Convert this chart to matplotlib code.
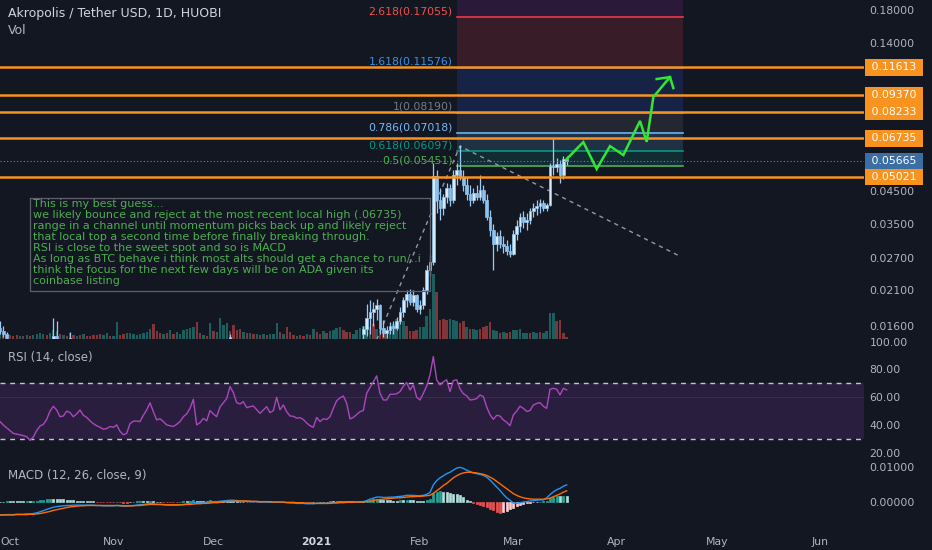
import matplotlib
matplotlib.use('Agg')
import matplotlib.pyplot as plt
import matplotlib.dates as mdates
import numpy as np
import pandas as pd

# ---------------- data ----------------
first_day = '2020-09-28'
last_day = '2021-03-17'

# RSI (14, close), one value per day
rsi_vals = [42.5, 40.0, 38.0, 36.0, 34.0, 33.5, 33.0, 32.4, 31.7, 29.0,
            31.5, 36.0, 39.3, 40.5, 44.0, 50.0, 53.5, 50.8, 46.0, 46.5,
            50.0, 49.0, 46.0, 48.0, 50.8, 47.0, 45.5, 43.0, 41.0, 39.5,
            38.4, 37.0, 37.5, 38.9, 38.4, 40.1, 35.5, 33.0, 34.0, 41.0,
            42.8, 42.9, 42.5, 47.0, 50.8, 56.0, 49.6, 43.7, 44.5, 42.5,
            40.1, 39.5, 39.0, 40.5, 42.5, 46.0, 48.0, 52.0, 58.5, 40.1,
            41.7, 44.8, 43.0, 50.4, 48.0, 46.0, 53.0, 56.0, 59.0, 67.6,
            63.3, 56.1, 55.1, 56.8, 52.5, 53.2, 53.7, 51.0, 48.4, 50.8,
            53.2, 48.9, 50.4, 59.9, 51.0, 54.4, 49.6, 46.5,
            46.3, 45.0, 45.3, 44.0, 41.5, 39.5, 38.4, 45.5, 42.5, 44.5,
            44.0, 46.0, 52.0, 57.5, 59.5, 60.9, 55.6, 44.4, 45.5, 47.5,
            49.6, 50.4, 62.8, 67.0, 71.0, 75.3, 62.8, 58.0, 58.0, 62.1,
            62.1, 62.5, 64.0, 68.0, 70.5, 65.2, 68.8, 60.0, 58.0, 62.8,
            68.0, 76.0, 89.2, 72.4, 68.8, 71.0, 72.5, 64.0, 71.9, 72.5,
            66.0, 62.5, 61.0, 58.0, 58.3, 59.0, 61.6, 60.5, 53.0, 47.5,
            44.1, 47.0, 46.5, 43.7, 42.0, 39.6, 47.2, 50.0, 53.5, 52.0,
            49.8, 50.4, 54.4, 55.5, 56.1, 53.5, 52.0, 65.7, 66.4, 65.7,
            61.6, 66.4, 65.2]

# MACD (12, 26, close, 9)
macd_vals = [-0.0038, -0.0038, -0.0037, -0.0037, -0.0037, -0.0036, -0.0036, -0.0036, -0.0035, -0.0035,
             -0.0034, -0.0032, -0.0029, -0.0026, -0.0022, -0.0019, -0.0016, -0.0014, -0.0013, -0.0012,
             -0.0011, -0.0011, -0.0010, -0.0010, -0.0010, -0.0010, -0.0010, -0.0010, -0.0010, -0.0011,
             -0.0011, -0.0012, -0.0012, -0.0012, -0.0012, -0.0011, -0.0012, -0.0013, -0.0013, -0.0012,
             -0.0011, -0.0010, -0.0009, -0.0008, -0.0007, -0.0005, -0.0006, -0.0008, -0.0008, -0.0009,
             -0.0010, -0.0010, -0.0010, -0.0010, -0.0009, -0.0008, -0.0007, -0.0005, -0.0002, -0.0004,
             -0.0004, -0.0003, -0.0002, 0.0000, 0.0000, 0.0000, 0.0001, 0.0002, 0.0003, 0.0004,
             0.0004, 0.0003, 0.0002, 0.0002, 0.0001, 0.0001, 0.0000, 0.0000, -0.0001, -0.0001,
             -0.0001, -0.0002, -0.0002, -0.0001, -0.0002, -0.0002, -0.0003, -0.0004, -0.0004, -0.0005,
             -0.0005, -0.0005, -0.0006, -0.0006, -0.0006, -0.0005, -0.0005, -0.0005, -0.0005, -0.0004,
             -0.0003, -0.0002, -0.0001, 0.0000, 0.0000, -0.0001, -0.0001, -0.0001, 0.0000, 0.0000,
             0.0003, 0.0007, 0.0010, 0.0013, 0.0013, 0.0012, 0.0012, 0.0013, 0.0013, 0.0014,
             0.0015, 0.0016, 0.0018, 0.0018, 0.0018, 0.0017, 0.0017, 0.0018, 0.0021, 0.0026,
             0.0048, 0.0060, 0.0068, 0.0074, 0.0080, 0.0084, 0.0090, 0.0096, 0.0098, 0.0095,
             0.0090, 0.0086, 0.0082, 0.0080, 0.0078, 0.0075, 0.0070, 0.0062, 0.0052, 0.0042,
             0.0032, 0.0021, 0.0011, 0.0004, -0.0004, -0.0005, -0.0003, -0.0001, 0.0000, 0.0002,
             0.0003, 0.0004, 0.0005, 0.0005, 0.0011, 0.0020, 0.0028, 0.0034, 0.0038, 0.0044,
             0.0048]
signal_vals = [-0.0038, -0.0038, -0.0038, -0.0038, -0.0038, -0.0037, -0.0037, -0.0037, -0.0037, -0.0036,
               -0.0036, -0.0035, -0.0034, -0.0032, -0.0030, -0.0028, -0.0025, -0.0023, -0.0021, -0.0019,
               -0.0017, -0.0015, -0.0014, -0.0013, -0.0012, -0.0012, -0.0011, -0.0011, -0.0011, -0.0011,
               -0.0011, -0.0011, -0.0011, -0.0011, -0.0011, -0.0011, -0.0011, -0.0012, -0.0012, -0.0012,
               -0.0012, -0.0011, -0.0011, -0.0010, -0.0009, -0.0008, -0.0008, -0.0008, -0.0008, -0.0008,
               -0.0009, -0.0009, -0.0009, -0.0009, -0.0009, -0.0009, -0.0008, -0.0008, -0.0007, -0.0006,
               -0.0006, -0.0005, -0.0005, -0.0004, -0.0003, -0.0003, -0.0002, -0.0001, 0.0000, 0.0001,
               0.0001, 0.0002, 0.0002, 0.0002, 0.0002, 0.0001, 0.0001, 0.0001, 0.0000, 0.0000,
               0.0000, 0.0000, -0.0001, -0.0001, -0.0001, -0.0001, -0.0002, -0.0002, -0.0002, -0.0003,
               -0.0003, -0.0004, -0.0004, -0.0004, -0.0005, -0.0005, -0.0005, -0.0005, -0.0005, -0.0005,
               -0.0004, -0.0004, -0.0003, -0.0003, -0.0002, -0.0002, -0.0002, -0.0001, -0.0001, -0.0001,
               0.0000, 0.0001, 0.0003, 0.0005, 0.0006, 0.0007, 0.0008, 0.0009, 0.0010, 0.0011,
               0.0011, 0.0012, 0.0013, 0.0014, 0.0014, 0.0015, 0.0015, 0.0016, 0.0017, 0.0018,
               0.0024, 0.0031, 0.0038, 0.0046, 0.0052, 0.0060, 0.0068, 0.0074, 0.0079, 0.0082,
               0.0084, 0.0084, 0.0083, 0.0082, 0.0080, 0.0078, 0.0075, 0.0070, 0.0065, 0.0058,
               0.0051, 0.0044, 0.0037, 0.0030, 0.0023, 0.0018, 0.0014, 0.0011, 0.0009, 0.0008,
               0.0007, 0.0007, 0.0007, 0.0007, 0.0008, 0.0010, 0.0014, 0.0018, 0.0022, 0.0027,
               0.0031]
hist_vals = [0.0000, 0.0000, 0.0001, 0.0001, 0.0001, 0.0001, 0.0001, 0.0001, 0.0002, 0.0001, 0.0002, 0.0003,
             0.0005, 0.0006, 0.0008, 0.0009, 0.0009, 0.0009, 0.0008, 0.0007, 0.0006,
             0.0004, 0.0004, 0.0003, 0.0002, 0.0002, 0.0001, 0.0001, 0.0001,
             -0.0001, -0.0001, -0.0002, -0.0002, -0.0002, -0.0002, 0.0000, -0.0002, -0.0003, -0.0003, -0.0002, 0.0000,
             0.0001, 0.0002, 0.0002, 0.0002, 0.0003, 0.0002, 0.0000, 0.0000, -0.0001, -0.0001, -0.0001,
             -0.0001, -0.0001, 0.0000, 0.0001, 0.0001, 0.0003, 0.0005, 0.0002, 0.0002, 0.0002, 0.0003,
             0.0004, 0.0003, 0.0003, 0.0003, 0.0003, 0.0003, 0.0003, 0.0003, 0.0001, 0.0000, 0.0000, -0.0001,
             0.0000, -0.0001, -0.0001, -0.0001, -0.0001, -0.0001, -0.0002, -0.0001, 0.0000, -0.0001, -0.0001,
             -0.0001, -0.0002,
             -0.0002, -0.0002, -0.0002, -0.0001, -0.0002, -0.0002, -0.0001, 0.0000, 0.0000, 0.0000, 0.0000,
             0.0001, 0.0001, 0.0002, 0.0002, 0.0003, 0.0002, 0.0001, 0.0001, 0.0000, 0.0001, 0.0001,
             0.0003, 0.0006, 0.0007, 0.0008, 0.0007, 0.0005, 0.0004, 0.0004, 0.0003, 0.0003, 0.0004, 0.0004,
             0.0005, 0.0004, 0.0004, 0.0002, 0.0002, 0.0002, 0.0004, 0.0008,
             0.0024, 0.0029, 0.0030, 0.0028, 0.0028, 0.0024, 0.0022, 0.0022, 0.0019, 0.0013, 0.0006, 0.0002,
             -0.0003, -0.0006, -0.0009, -0.0012, -0.0016, -0.0020, -0.0025, -0.0029, -0.0031, -0.0030,
             -0.0027, -0.0022, -0.0017, -0.0013, -0.0010, -0.0007, -0.0005, -0.0003, -0.0002, -0.0001, 0.0000,
             0.0001, 0.0003, 0.0010, 0.0014, 0.0016, 0.0016, 0.0017, 0.0017]

# volume (millions) and bar colour (g = up day, r = down day)
volume = [5, 4, 3, 4, 3, 4, 3, 3, 4, 3,
          4, 5, 6, 5, 4, 6, 9, 8, 5, 4,
          3, 6, 4, 3, 4, 5, 3, 3, 4, 4,
          5, 4, 6, 3, 3, 17, 4, 5, 6, 6,
          5, 4, 5, 6, 7, 10, 15, 8, 6, 5,
          6, 9, 5, 7, 5, 9, 10, 11, 12, 17,
          6, 4, 3, 16, 8, 7, 21, 14, 16, 8,
          14, 9, 10, 7, 6, 6, 5, 5, 4, 5,
          4, 5, 5, 16, 7, 5, 12, 7,
          4, 3, 4, 3, 5, 4, 10, 7, 5, 8,
          6, 8, 9, 11, 12, 9, 7, 7, 5, 9,
          11, 13, 18, 12, 15, 10, 12, 8, 6, 9,
          15, 20, 25, 18, 13, 8, 8, 9, 12, 12,
          23, 30, 65, 47, 19, 20, 19, 20, 19, 18,
          16, 18, 12, 10, 10, 9, 10, 12, 13, 17,
          9, 8, 6, 7, 6, 7, 9, 9, 10, 6,
          6, 6, 7, 6, 7, 6, 8, 26, 26, 18,
          19, 6, 2]
volume_dir = ('grrrrrgrgr' 'ggggrgggrg' 'rgrgrgrrrr' 'rggrggrrgg' 'ggggggrrrg'
              'rgrggggggr' 'rgrgrggggr' 'rrrgrgrgrg' 'rgggrgrr'
              'rgrrgrgrrg' 'rggggrrrgg' 'ggggrgrrgg' 'ggggrrrrgg' 'gggrrrrggg'
              'rrgrggrrrr' 'ggrgrrgggg' 'grggrggggr' 'rrr')

# candles that show inside the price pane (the rest sit below its bottom)
candle_dates = (['2020-09-28', '2020-09-29', '2020-09-30', '2020-10-14', '2020-10-15',
                 '2020-10-19', '2020-12-06']
                + [d.strftime('%Y-%m-%d') for d in pd.date_range('2021-01-15', '2021-03-17')])
c_open = [.0158, .0154, .0150, .0142, .0148, .0142, .0143,
          .0150, .0156, .0170, .0178, .0182, .0188, .0158, .0152, .0155, .0160,
          .0158, .0166, .0178, .0195, .0205, .0192, .0203, .0182, .0188, .0210,
          .0245, .0262, .0505, .0420, .0395, .0430, .0460, .0420, .0510, .0530,
          .0500, .0470, .0440, .0420, .0445, .0430, .0455, .0420, .0370, .0335,
          .0300, .0320, .0300, .0295, .0285, .0278, .0325, .0345, .0370, .0355,
          .0360, .0385, .0395, .0400, .0410, .0395, .0405, .0545, .0540, .0555,
          .0510, .0575]
c_high = [.0166, .0160, .0153, .0170, .0166, .0153, .0150,
          .0160, .0190, .0195, .0192, .0196, .0190, .0168, .0160, .0165, .0166,
          .0172, .0185, .0200, .0210, .0212, .0210, .0205, .0195, .0215, .0255,
          .0275, .0560, .0530, .0460, .0440, .0480, .0475, .0530, .0560, .0640,
          .0530, .0500, .0470, .0460, .0470, .0510, .0470, .0440, .0390, .0350,
          .0330, .0335, .0320, .0310, .0300, .0335, .0360, .0380, .0385, .0380,
          .0395, .0410, .0420, .0425, .0420, .0410, .0560, .0675, .0580, .0570,
          .0590, .0590]
c_low = [.0150, .0147, .0143, .0138, .0140, .0139, .0140,
         .0145, .0148, .0150, .0160, .0168, .0150, .0147, .0146, .0150, .0151,
         .0155, .0162, .0172, .0185, .0188, .0186, .0178, .0175, .0182, .0205,
         .0235, .0255, .0380, .0360, .0375, .0410, .0400, .0410, .0470, .0490,
         .0450, .0420, .0400, .0410, .0420, .0420, .0410, .0360, .0320, .0246,
         .0285, .0290, .0280, .0275, .0272, .0275, .0310, .0330, .0340, .0335,
         .0350, .0370, .0375, .0380, .0385, .0385, .0400, .0510, .0520, .0480,
         .0495, .0550]
c_close = [.0154, .0150, .0146, .0148, .0145, .0146, .0147,
           .0156, .0170, .0178, .0182, .0188, .0158, .0152, .0155, .0160, .0158,
           .0166, .0178, .0195, .0205, .0192, .0203, .0182, .0188, .0210, .0245,
           .0262, .0505, .0420, .0395, .0430, .0460, .0420, .0510, .0530, .0500,
           .0470, .0440, .0420, .0445, .0430, .0455, .0420, .0370, .0335, .0300,
           .0320, .0300, .0295, .0285, .0278, .0325, .0345, .0370, .0355, .0360,
           .0385, .0395, .0400, .0410, .0395, .0405, .0545, .0540, .0555, .0510,
           .0575, .05665]

# fibonacci extension drawn on the chart
fib_start, fib_end = '2021-02-12', '2021-04-21'
fib_levels = ['0.5', '0.618', '0.786', '1', '1.618', '2.618', '3.618']
fib_prices = [0.05451, 0.06097, 0.07018, 0.08190, 0.11576, 0.17055, 0.22533]
fib_colors = ['#4caf50', '#089981', '#64b5f6', '#787b86', '#2962ff', '#f23645', '#9c27b0']
fib_label_colors = ['#4caf50', '#089981', '#7ab8f5', '#787b86', '#3d8fe8', '#f05050', '#9c27b0']

# horizontal rays and the last price
ray_prices = [0.11613, 0.09370, 0.08233, 0.06735, 0.05021]
last_price = 0.05665

# hand drawn projection (green) and trend lines (dashed)
path_dates = ['2021-03-17', '2021-03-22', '2021-03-26', '2021-03-30', '2021-04-03',
              '2021-04-08', '2021-04-10', '2021-04-12', '2021-04-17']
path_prices = [0.0575, 0.0655, 0.0533, 0.0635, 0.0593, 0.0770, 0.0656, 0.0925, 0.1078]
arrow_dates = ['2021-04-13', '2021-04-17', '2021-04-18']
arrow_prices = [0.1062, 0.1078, 0.0991]
trend_dates = ['2021-01-19', '2021-02-13', '2021-04-20']
trend_prices = [0.0144, 0.0635, 0.0273]

note_corner = ('2020-10-07', 0.0427)
note_far = ('2021-02-04', 0.0209)
note_text = ("This is my best guess...\n"
             "we likely bounce and reject at the most recent local high (.06735)\n"
             "range in a channel until momentum picks back up and likely reject\n"
             "that local top a second time before finally breaking through.\n"
             "RSI is close to the sweet spot and so is MACD\n"
             "As long as BTC behave i think most alts should get a chance to run/..i\n"
             "think the focus for the next few days will be on ADA given its\n"
             "coinbase listing")

month_ticks = ['2020-10-01', '2020-11-01', '2020-12-01', '2021-01-01', '2021-02-01',
               '2021-03-01', '2021-04-01', '2021-05-01', '2021-06-01']
month_labels = ['Oct', 'Nov', 'Dec', '2021', 'Feb', 'Mar', 'Apr', 'May', 'Jun']
# 0.06 and 0.10 sit under the price tags, so only the free ones are written
price_ticks = [0.016, 0.021, 0.027, 0.035, 0.045, 0.14, 0.18]

# ---------------- drawing ----------------
BG = '#131722'
TXT = '#b2b5be'
W, H = 932, 550


def dnum(s):
    return mdates.date2num(pd.Timestamp(s))


def rect(top, bottom):
    return [0, 1 - bottom / H, 864 / W, (bottom - top) / H]


days = mdates.date2num(pd.date_range(first_day, last_day))
assert len(days) == len(rsi_vals) == len(macd_vals) == len(signal_vals) == len(hist_vals)
assert len(days) == len(volume) == len(volume_dir)
cx = np.array([dnum(d) for d in candle_dates])
assert len(cx) == len(c_open) == len(c_high) == len(c_low) == len(c_close)

x0 = dnum('2020-10-01')
xlim = (x0 - 3.0, x0 + 256.2)

fig = plt.figure(figsize=(W / 100, H / 100), dpi=100, facecolor=BG)

ax_vol = fig.add_axes(rect(0, 339))
ax = fig.add_axes(rect(0, 339), sharex=ax_vol)
ax_rsi = fig.add_axes(rect(339, 460), sharex=ax_vol)
ax_macd = fig.add_axes(rect(460, 530), sharex=ax_vol)

for a in (ax_vol, ax, ax_rsi, ax_macd):
    a.set_facecolor(BG)
    for s in a.spines.values():
        s.set_visible(False)
    a.tick_params(axis='both', length=0, colors=TXT, labelsize=7.8)
    a.yaxis.tick_right()
    a.tick_params(axis='y', pad=4)
    a.tick_params(axis='x', labelbottom=False)
ax_vol.set_xlim(*xlim)
ax.set_zorder(2)
ax.patch.set_visible(False)
ax_vol.set_yticks([])

# volume overlay
vol_colors = ['#26a69a' if c == 'g' else '#ef5350' for c in volume_dir]
ax_vol.bar(days, volume, width=0.7, color=vol_colors, alpha=0.5, linewidth=0)
ax_vol.set_ylim(0, 339)

# price pane (log scale)
ax.set_yscale('log')
ax.set_ylim(0.01448, 0.1946)
ax.yaxis.set_minor_locator(matplotlib.ticker.NullLocator())
ax.set_yticks(price_ticks)
ax.set_yticklabels(['%.5f' % p for p in price_ticks])

# fib zones
fx = [dnum(fib_start), dnum(fib_end)]
for i in range(len(fib_prices) - 1):
    ax.fill_between(fx, fib_prices[i], fib_prices[i + 1], color=fib_colors[i + 1],
                    alpha=0.17, linewidth=0, zorder=1)
for lev, p, c, lc in zip(fib_levels[:-1], fib_prices[:-1], fib_colors[:-1], fib_label_colors[:-1]):
    ax.plot(fx, [p, p], color=c, lw=1.2, zorder=2)
    ax.annotate('%s(%.5f)' % (lev, p), xy=(fx[0], p), xytext=(-4, 1), textcoords='offset pixels',
                ha='right', va='bottom', fontsize=7.8, color=lc, zorder=8)

# trend lines
tx = [dnum(d) for d in trend_dates]
ax.plot(tx, trend_prices, color='#9598a1', lw=1.0, ls=(0, (3, 3)), zorder=3)

# candles
up = np.array(c_close) >= np.array(c_open)
ax.vlines(cx, c_low, c_high, color='#9ccaf2', lw=0.9, zorder=4)
body_lo = np.minimum(c_open, c_close)
body_hi = np.maximum(c_open, c_close)
ax.bar(cx, body_hi - body_lo, bottom=body_lo, width=0.8,
       color=np.where(up, '#d6eafc', '#8cc2f0'), edgecolor='#8ec2f0', linewidth=0.5, zorder=4)

# horizontal rays + last price line
for p in ray_prices:
    ax.axhline(p, color='#f7931e', lw=1.8, zorder=5)
ax.axhline(last_price, color='#5d84b3', lw=0.8, ls=(0, (1, 2)), zorder=5)

# green projection
ax.plot([dnum(d) for d in path_dates], path_prices, color='#33e633', lw=1.8, zorder=6,
        solid_joinstyle='miter')
ax.plot([dnum(d) for d in arrow_dates], arrow_prices, color='#33e633', lw=1.8, zorder=6)

# note box
nx0, ny0 = dnum(note_corner[0]), note_corner[1]
nx1, ny1 = dnum(note_far[0]), note_far[1]
ax.plot([nx0, nx1, nx1, nx0, nx0], [ny0, ny0, ny1, ny1, ny0], color='#5d606b', lw=0.9, zorder=7)
ax.annotate(note_text, xy=(nx0, ny0), xytext=(3, -1), textcoords='offset pixels',
            ha='left', va='top', fontsize=8.0, color='#4caf50', linespacing=1.13, zorder=7)

# axis tags
def price_tag(p, fc):
    ax.annotate(' %.5f ' % p, xy=(1, p), xycoords=('axes fraction', 'data'), xytext=(4, 0),
                textcoords='offset pixels', ha='left', va='center', fontsize=7.8, color='white',
                bbox=dict(boxstyle='square,pad=0.3', fc=fc, ec='none'), zorder=10,
                annotation_clip=False)


for p in ray_prices:
    price_tag(p, '#f7931e')
price_tag(last_price, '#3b6ea3')

# RSI pane
ax_rsi.set_ylim(14.9, 101.8)
ax_rsi.axhspan(30, 70, color='#2a1e3e', lw=0)
for lvl in (70, 30):
    ax_rsi.axhline(lvl, color='#c3c6ce', lw=1.0, ls=(0, (3.5, 3.5)))
ax_rsi.axhline(60.5, color='#3b2a55', lw=0.8)
ax_rsi.plot(days, rsi_vals, color='#ab47bc', lw=1.0)
ax_rsi.set_yticks([20, 40, 60, 80, 100])
ax_rsi.set_yticklabels(['%.2f' % v for v in [20, 40, 60, 80, 100]])

# MACD pane
ax_macd.set_ylim(-0.0081, 0.0119)
hist_colors = []
for i, v in enumerate(hist_vals):
    prev = hist_vals[i - 1] if i else v
    if v >= 0:
        hist_colors.append('#26a69a' if v > prev else '#b2dfdb')
    else:
        hist_colors.append('#ffcdd2' if v > prev else '#ef5350')
ax_macd.bar(days, hist_vals, width=0.6, color=hist_colors, edgecolor=hist_colors, linewidth=0.5)
ax_macd.plot(days, macd_vals, color='#2196f3', lw=1.0)
ax_macd.plot(days, signal_vals, color='#ff6d00', lw=1.0)
ax_macd.set_yticks([0, 0.01])
ax_macd.set_yticklabels(['0.00000', '0.01000'])

ax_macd.set_xticks([dnum(d) for d in month_ticks])
ax_macd.set_xticklabels(month_labels)
ax_macd.tick_params(axis='x', labelbottom=True, pad=5)
for lab in ax_macd.get_xticklabels():
    if lab.get_text() == '2021':
        lab.set_fontweight('bold')
        lab.set_color('#d1d4dc')
ax_vol.set_xlim(*xlim)

# pane titles
fig.text(8 / W, 1 - 14 / H, 'Akropolis / Tether USD, 1D, HUOBI', color='#d1d4dc',
         fontsize=9, va='center', ha='left')
fig.text(8 / W, 1 - 30 / H, 'Vol', color=TXT, fontsize=9, va='center', ha='left')
fig.text(8 / W, 1 - 357 / H, 'RSI (14, close)', color=TXT, fontsize=8.5, va='center', ha='left')
fig.text(8 / W, 1 - 475 / H, 'MACD (12, 26, close, 9)', color=TXT, fontsize=8.5, va='center', ha='left')

fig.savefig('out.png', dpi=100, facecolor=BG)
